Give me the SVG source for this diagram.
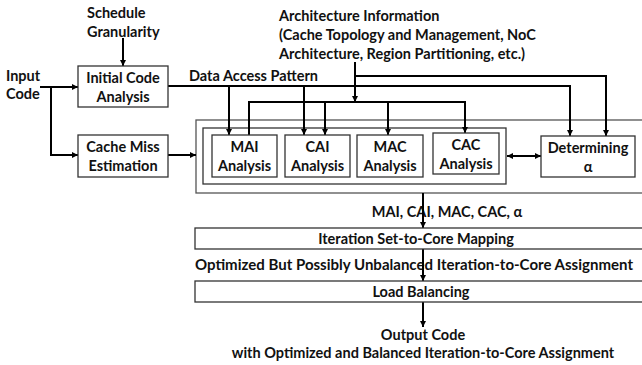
<svg xmlns="http://www.w3.org/2000/svg" width="642" height="365" viewBox="0 0 642 365">
<defs>
<marker id="ah" viewBox="0 0 10 10" refX="10" refY="5" markerWidth="6" markerHeight="6" orient="auto-start-reverse" markerUnits="userSpaceOnUse">
<path d="M0,0 L10,5 L0,10 z" fill="#000"/>
</marker>
<style>
text{font-family:Lato,"Liberation Sans",sans-serif;font-weight:700;font-size:14.5px;fill:#111}
.c{text-anchor:middle}
.box{fill:#fff;stroke:#333;stroke-width:1.3}
.outer{fill:#fff;stroke:#555;stroke-width:1.3}
.ln{fill:none;stroke:#000;stroke-width:2}
.ar{fill:none;stroke:#000;stroke-width:2;marker-end:url(#ah)}
</style>
</defs>
<rect width="642" height="365" fill="#fff"/>
<g id="outer-box"><rect class="outer" x="196" y="120" width="470" height="73"/></g>
<g id="inner-box"><rect class="box" x="203" y="128" width="303" height="56"/></g>
<g id="labels">
<text x="87" y="18">Schedule</text>
<text x="87" y="37">Granularity</text>
<text x="279" y="21">Architecture Information</text>
<text x="279" y="40">(Cache Topology and Management, NoC</text>
<text x="279" y="59">Architecture, Region Partitioning, etc.)</text>
<text x="6" y="81">Input</text>
<text x="6" y="99">Code</text>
<text x="189" y="81">Data Access Pattern</text>
<text class="c" x="447" y="217">MAI, CAI, MAC, CAC, α</text>
<text x="195" y="270" textLength="438" lengthAdjust="spacingAndGlyphs">Optimized But Possibly Unbalanced Iteration-to-Core Assignment</text>
<text class="c" x="423" y="340">Output Code</text>
<text class="c" x="423" y="358">with Optimized and Balanced Iteration-to-Core Assignment</text>
</g>
<g id="connectors">
<line class="ar" x1="123" y1="38" x2="123" y2="66"/>
<polyline class="ln" points="40,87 51,87 51,155"/>
<line class="ar" x1="50" y1="87" x2="78" y2="87"/>
<line class="ar" x1="50" y1="155" x2="78" y2="155"/>
<line class="ar" x1="168" y1="155" x2="196" y2="155"/>
<polyline class="ar" points="168,86 570,86 570,136"/>
<line class="ar" x1="229" y1="86" x2="229" y2="135"/>
<line class="ar" x1="304" y1="86" x2="304" y2="135"/>
<line class="ar" x1="355" y1="62" x2="355" y2="102"/>
<polyline class="ar" points="355,76 606,76 606,136"/>
<polyline class="ar" points="249,135 249,102 465,102 465,133"/>
<line class="ar" x1="325" y1="102" x2="325" y2="135"/>
<line class="ar" x1="388" y1="102" x2="388" y2="135"/>
<line class="ar" x1="507" y1="156" x2="541" y2="156" style="marker-start:url(#ah)"/>
<line class="ar" x1="423" y1="193" x2="423" y2="228"/>
<line class="ar" x1="423" y1="249" x2="423" y2="281"/>
<line class="ar" x1="423" y1="302" x2="423" y2="327"/>
</g>
<g id="initial-code-analysis"><rect class="box" x="78" y="66" width="90" height="41"/><text class="c" x="123" y="83">Initial Code</text><text class="c" x="123" y="102">Analysis</text></g>
<g id="cache-miss-estimation"><rect class="box" x="78" y="135" width="90" height="42"/><text class="c" x="123" y="152">Cache Miss</text><text class="c" x="123" y="171">Estimation</text></g>
<g id="mai"><rect class="box" x="212" y="135" width="65" height="42"/><text class="c" x="244.5" y="152">MAI</text><text class="c" x="244.5" y="171">Analysis</text></g>
<g id="cai"><rect class="box" x="285" y="135" width="65" height="42"/><text class="c" x="317.5" y="152">CAI</text><text class="c" x="317.5" y="171">Analysis</text></g>
<g id="mac"><rect class="box" x="357" y="135" width="66" height="42"/><text class="c" x="390" y="152">MAC</text><text class="c" x="390" y="171">Analysis</text></g>
<g id="cac"><rect class="box" x="433" y="133" width="66" height="41"/><text class="c" x="466" y="150">CAC</text><text class="c" x="466" y="169">Analysis</text></g>
<g id="determining"><rect class="box" x="541" y="136" width="94" height="41"/><text class="c" x="588" y="153">Determining</text><text class="c" x="588" y="172">α</text></g>
<g id="iteration-mapping"><rect class="box" x="195" y="228" width="470" height="21"/><text class="c" x="416" y="244">Iteration Set-to-Core Mapping</text></g>
<g id="load-balancing"><rect class="box" x="195" y="281" width="470" height="21"/><text class="c" x="421" y="297">Load Balancing</text></g>
</svg>
